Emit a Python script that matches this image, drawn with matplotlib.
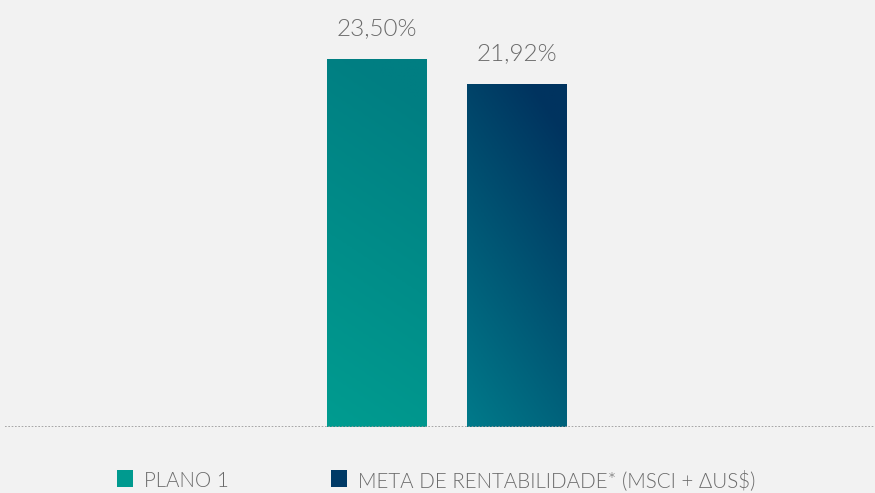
import matplotlib
matplotlib.use("Agg")
import matplotlib.pyplot as plt
import numpy as np
from matplotlib.patches import Rectangle
from matplotlib.colors import LinearSegmentedColormap

categories = ["PLANO 1", "META DE RENTABILIDADE* (MSCI + ΔUS$)"]
values = [23.50, 21.92]
labels = ["23,50%", "21,92%"]
legend_colors = ["#009a8f", "#003a66"]
grad_top = ["#007e82", "#00335f"]
grad_bottom = ["#009c90", "#007a8a"]
grad_xweight = [0.15, 0.3]

BG = "#f2f2f2"
TXT = "#6a6a6a"
FONT = ["Lato", "DejaVu Sans"]

W, H = 875, 493
fig = plt.figure(figsize=(W / 100, H / 100), dpi=100, facecolor=BG)
ax = fig.add_axes([5 / W, (H - 427) / H, 1 - 5 / W, 427 / H])
ax.set_facecolor(BG)

x = np.arange(len(values))
width = 100 / 140
ax.set_xlim(-(377 - 5) / 140, (875 - 377) / 140)
ax.set_ylim(0, 427 / 368 * 23.5)

bars = ax.bar(x, values, width=width, color="none", edgecolor="none")
for i, b in enumerate(bars):
    x0, y0 = b.get_x(), b.get_y()
    w, h = b.get_width(), b.get_height()
    cmap = LinearSegmentedColormap.from_list("g%d" % i, [grad_bottom[i], grad_top[i]])
    gx, gy = np.meshgrid(np.linspace(0, 1, 64), np.linspace(0, 1, 256))
    grad = (1 - grad_xweight[i]) * gy + grad_xweight[i] * gx
    im = ax.imshow(grad, cmap=cmap, extent=[x0, x0 + w, y0, y0 + h], origin="lower",
                   aspect="auto", vmin=0, vmax=0.9, zorder=2)
    im.set_clip_path(b)
    ax.text(b.get_x() + w / 2, values[i] + 1.5, labels[i], ha="center", va="baseline",
            fontsize=17.5, color=TXT, family=FONT, fontweight=300)

ax.axhline(0, color="#9a9a9a", lw=1.2, ls=(0, (1, 1)), zorder=3)
for s in ax.spines.values():
    s.set_visible(False)
ax.set_xticks([])
ax.set_yticks([])

# legend
leg_x = [117, 331]
for i, cat in enumerate(categories):
    fig.patches.append(Rectangle((leg_x[i] / W, (H - 487) / H), 16 / W, 17 / H,
                                 transform=fig.transFigure, facecolor=legend_colors[i],
                                 edgecolor="none"))
    fig.text((leg_x[i] + 27) / W, (H - 487) / H, cat, ha="left", va="baseline",
             fontsize=14.8, color=TXT, family=FONT, fontweight=300)

fig.savefig("out.png", dpi=100, facecolor=BG)
